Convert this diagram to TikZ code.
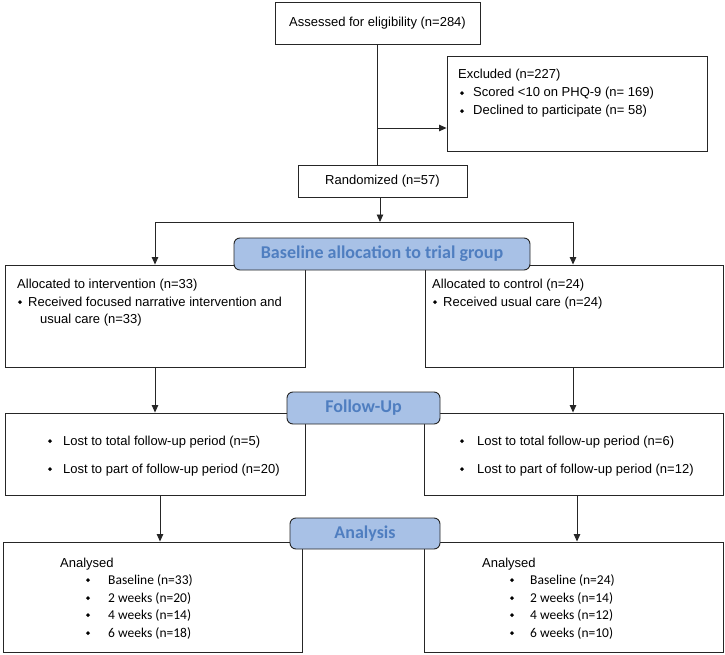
\documentclass[tikz,border=0pt]{standalone}
\usepackage{fontspec}
\setmainfont{Liberation Sans}
\newfontfamily\calib{Carlito}
\usetikzlibrary{arrows.meta,calc}
\definecolor{bannerfill}{HTML}{A8C1E6}
\definecolor{bannertext}{HTML}{4F7EC0}
\definecolor{linec}{HTML}{262626}
\newcommand\dia{\raisebox{0.28ex}{\rotatebox{45}{\rule{0.22em}{0.22em}}}}
\tikzset{
  box/.style={draw=linec, line width=0.9pt, fill=white, inner sep=0pt},
  banner/.style={draw=linec, line width=0.9pt, fill=bannerfill, rounded corners=6pt, inner sep=0pt,
     font=\calib\bfseries\fontsize{18}{20}\selectfont, text=bannertext},
  txt/.style={anchor=base west, inner sep=0pt, font=\fontsize{13}{15}\selectfont},
  ctxt/.style={anchor=base west, inner sep=0pt, font=\calib\fontsize{13.5}{15}\selectfont},
  bul/.style={anchor=base, inner sep=0pt, font=\fontsize{13}{15}\selectfont},
  conn/.style={draw=linec, line width=0.9pt},
  arr/.style={conn, -{Triangle[length=7.5pt,width=6.5pt]}}
}
\begin{document}
\begin{tikzpicture}[x=1pt,y=-1pt]
\useasboundingbox (0,0) rectangle (725,655);
% boxes
\node[box, minimum width=205, minimum height=42, font=\fontsize{13}{15}\selectfont] (assess) at (377.5,23) {Assessed for eligibility (n=284)};
\node[box, minimum width=260, minimum height=95] (excl) at (577,103.5) {};
\node[box, minimum width=169, minimum height=32, font=\fontsize{13}{15}\selectfont] (rand) at (382.5,181) {Randomized (n=57)};
\node[box, minimum width=300, minimum height=102] (allocL) at (155,316) {};
\node[box, minimum width=298, minimum height=102] (allocR) at (574,316) {};
\node[box, minimum width=300, minimum height=82] (folL) at (155,454) {};
\node[box, minimum width=299, minimum height=82] (folR) at (573.5,454) {};
\node[box, minimum width=299, minimum height=110] (anaL) at (152.5,597) {};
\node[box, minimum width=299, minimum height=110] (anaR) at (573.5,597) {};
% banners
\node[banner, minimum width=296, minimum height=32] (ban1) at (382,254) {Baseline allocation to trial group};
\node[banner, minimum width=153, minimum height=32] (ban2) at (363.5,408) {Follow-Up};
\node[banner, minimum width=150, minimum height=31] (ban3) at (365,533.5) {Analysis};
% excluded text
\node[txt] (ex0) at (458,79) {Excluded (n=227)};
\node[bul] (exb1) at (462,97) {\dia};
\node[txt] (ex1) at (473,97) {Scored <10 on PHQ-9 (n= 169)};
\node[bul] (exb2) at (462,115) {\dia};
\node[txt] (ex2) at (473,115) {Declined to participate (n= 58)};
% allocation left
\node[txt] (al0) at (17,288) {Allocated to intervention (n=33)};
\node[bul] (alb1) at (20,306) {\dia};
\node[txt] (al1) at (28,306) {Received focused narrative intervention and};
\node[txt] (al2) at (40,323) {usual care (n=33)};
% allocation right
\node[txt] (ar0) at (432,288) {Allocated to control (n=24)};
\node[bul] (arb1) at (435,306) {\dia};
\node[txt] (ar1) at (443,306) {Received usual care (n=24)};
% follow-up left
\node[bul] (flb1) at (50,445) {\dia};
\node[txt] (fl1) at (63,445) {Lost to total follow-up period (n=5)};
\node[bul] (flb2) at (50,473) {\dia};
\node[txt] (fl2) at (63,473) {Lost to part of follow-up period (n=20)};
% follow-up right
\node[bul] (frb1) at (462,445) {\dia};
\node[txt] (fr1) at (477,445) {Lost to total follow-up period (n=6)};
\node[bul] (frb2) at (462,473) {\dia};
\node[txt] (fr2) at (477,473) {Lost to part of follow-up period (n=12)};
% analysis left
\node[txt] (nl0) at (60,567) {Analysed};
\node[bul] (nlb1) at (88,584) {\dia};
\node[ctxt] (nl1) at (108,584) {Baseline (n=33)};
\node[bul] (nlb2) at (88,602) {\dia};
\node[ctxt] (nl2) at (108,602) {2 weeks (n=20)};
\node[bul] (nlb3) at (88,619) {\dia};
\node[ctxt] (nl3) at (108,619) {4 weeks (n=14)};
\node[bul] (nlb4) at (88,637) {\dia};
\node[ctxt] (nl4) at (108,637) {6 weeks (n=18)};
% analysis right
\node[txt] (nr0) at (482,567) {Analysed};
\node[bul] (nrb1) at (512,584) {\dia};
\node[ctxt] (nr1) at (530,584) {Baseline (n=24)};
\node[bul] (nrb2) at (512,602) {\dia};
\node[ctxt] (nr2) at (530,602) {2 weeks (n=14)};
\node[bul] (nrb3) at (512,619) {\dia};
\node[ctxt] (nr3) at (530,619) {4 weeks (n=12)};
\node[bul] (nrb4) at (512,637) {\dia};
\node[ctxt] (nr4) at (530,637) {6 weeks (n=10)};
% connectors
\coordinate (exbr) at (378,128);
\coordinate (split) at (380,222);
\coordinate (splitL) at (155,222);
\coordinate (splitR) at (573,222);
\draw[conn] (assess.south) -- (assess.south |- rand.north);
\draw[arr] (exbr) -- (exbr -| excl.west);
\draw[arr] (split |- rand.south) -- (split);
\draw[conn] (splitL) -- (splitR);
\draw[arr] (splitL) -- (splitL |- allocL.north);
\draw[arr] (splitR) -- (splitR |- allocR.north);
\draw[arr] (allocL.south) -- (folL.north);
\draw[arr] (splitR |- allocR.south) -- (splitR |- folR.north);
\draw[arr] ([xshift=5pt]folL.south) -- ([xshift=5pt]folL.south |- anaL.north);
\draw[arr] ([xshift=3.5pt]folR.south) -- ([xshift=3.5pt]folR.south |- anaR.north);
\end{tikzpicture}
\end{document}
